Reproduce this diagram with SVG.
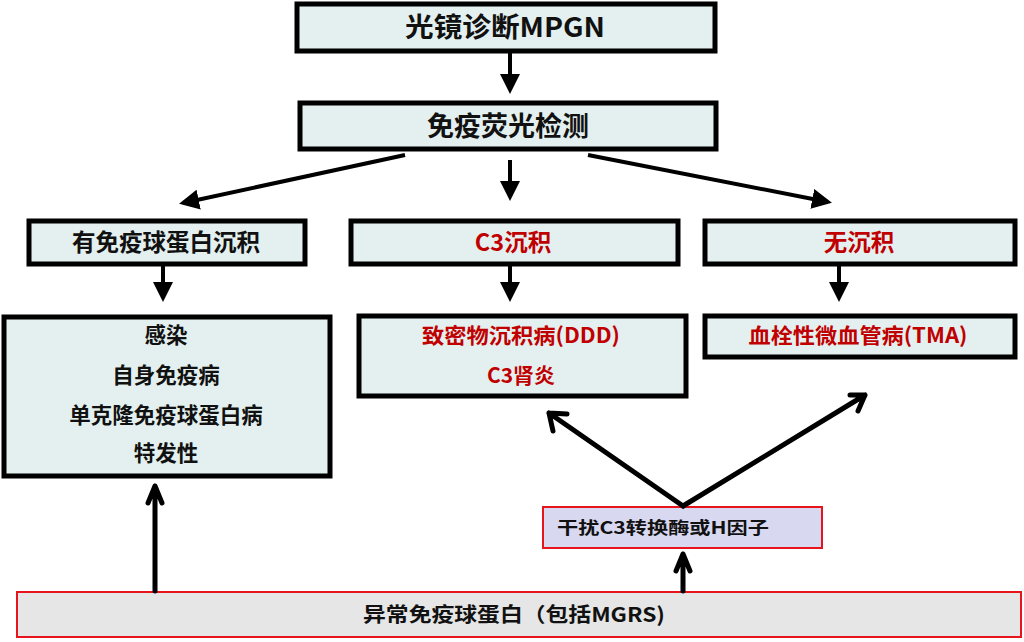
<svg xmlns="http://www.w3.org/2000/svg" width="1024" height="642" viewBox="0 0 1024 642">
<defs>
<style>
.box{fill:#e3f0ef;stroke:#000;stroke-width:5}
.pbox{stroke:#e8141c;stroke-width:2}
.t{font-family:"Noto Sans CJK SC","Liberation Sans",sans-serif;font-weight:bold;text-anchor:middle;fill:#111}
.r{fill:#c00000}
.ln{stroke:#000;stroke-width:4;fill:none}
.big{stroke:#000;stroke-width:5;fill:none;stroke-linecap:round;stroke-linejoin:round}
</style>
<marker id="ah" markerWidth="6" markerHeight="6" refX="4" refY="3" orient="auto" markerUnits="strokeWidth">
<path d="M0,0.5 L5,3 L0,5.5 Z" fill="#000"/>
</marker>
</defs>
<rect width="1024" height="642" fill="#fff"/>
<g id="n1"><rect class="box" x="297" y="4" width="418" height="47"/><text class="t" x="505" y="37" font-size="27" textLength="200" lengthAdjust="spacingAndGlyphs">光镜诊断MPGN</text></g>
<g id="n2"><rect class="box" x="300" y="103" width="416" height="46"/><text class="t" x="508" y="136" font-size="27">免疫荧光检测</text></g>
<g id="n3"><rect class="box" x="29" y="221" width="276" height="43"/><text class="t" x="166" y="251" font-size="23.5">有免疫球蛋白沉积</text></g>
<g id="n4"><rect class="box" x="351" y="221" width="327" height="43"/><text class="t r" x="513" y="251" font-size="23.5">C3沉积</text></g>
<g id="n5"><rect class="box" x="705" y="221" width="310" height="43"/><text class="t r" x="859" y="251" font-size="23.5">无沉积</text></g>
<g id="n6"><rect class="box" x="4" y="317" width="326" height="159"/>
<text class="t" x="166" y="343" font-size="21.5">感染</text>
<text class="t" x="166" y="383" font-size="21.5">自身免疫病</text>
<text class="t" x="166" y="423" font-size="21.5">单克隆免疫球蛋白病</text>
<text class="t" x="166" y="461" font-size="21.5">特发性</text></g>
<g id="n7"><rect class="box" x="359" y="316" width="327" height="80"/>
<text class="t r" x="521" y="343" font-size="21" textLength="198" lengthAdjust="spacingAndGlyphs">致密物沉积病(DDD)</text>
<text class="t r" x="521" y="383" font-size="21">C3肾炎</text></g>
<g id="n8"><rect class="box" x="705" y="316" width="310" height="41"/><text class="t r" x="858" y="343" font-size="21" textLength="219" lengthAdjust="spacingAndGlyphs">血栓性微血管病(TMA)</text></g>
<g id="n9"><rect class="pbox" x="543" y="507" width="279" height="41" fill="#d8d8f0"/><text class="t" x="557" y="534" font-size="17" style="text-anchor:start" textLength="212" lengthAdjust="spacingAndGlyphs">干扰C3转换酶或H因子</text></g>
<g id="n10"><rect class="pbox" x="17" y="592" width="1004" height="45" fill="#e6e6e6"/><text class="t" x="514" y="622" font-size="20" textLength="302" lengthAdjust="spacingAndGlyphs">异常免疫球蛋白（包括MGRS)</text></g>
<g id="connectors">
<line class="ln" x1="510" y1="53" x2="510" y2="90" marker-end="url(#ah)"/>
<line class="ln" x1="405" y1="155" x2="183" y2="203" marker-end="url(#ah)"/>
<line class="ln" x1="510" y1="160" x2="510" y2="197" marker-end="url(#ah)"/>
<line class="ln" x1="588" y1="155" x2="828" y2="202" marker-end="url(#ah)"/>
<line class="ln" x1="163" y1="266" x2="163" y2="298" marker-end="url(#ah)"/>
<line class="ln" x1="510" y1="266" x2="510" y2="298" marker-end="url(#ah)"/>
<line class="ln" x1="839" y1="266" x2="839" y2="298" marker-end="url(#ah)"/>
<path class="big" d="M155,591 V486 M148,503 L155,486 L162,503"/>
<path class="big" d="M683,591 V554 M676,571 L683,554 L690,571"/>
<path class="big" d="M683,506 L549,413 M553,431 L549,413 L567,414"/>
<path class="big" d="M683,506 L865,395 M850,395 L865,395 L858,411"/>
</g>
</svg>
